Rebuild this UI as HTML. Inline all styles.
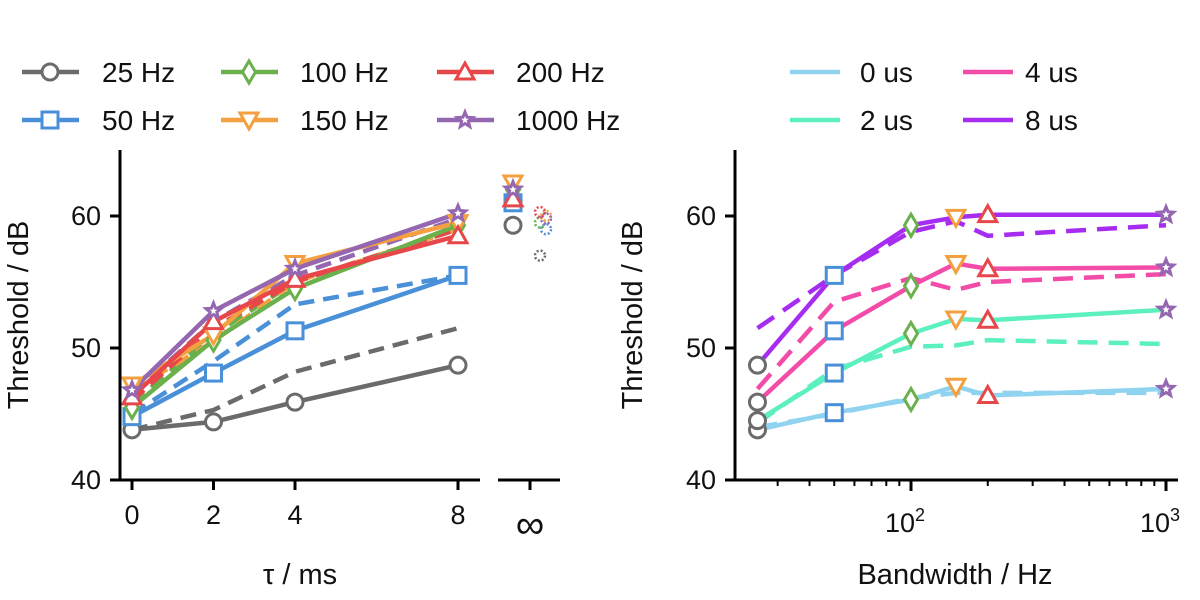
<!DOCTYPE html>
<html><head><meta charset="utf-8"><style>
html,body{margin:0;padding:0;background:#fff;}
svg{display:block;font-family:"Liberation Sans","DejaVu Sans",sans-serif;}
</style></head><body>
<svg id="chart" width="1200" height="600" viewBox="0 0 1200 600" xmlns="http://www.w3.org/2000/svg"></svg>
<script>
// ---- Left panel data ----
const leftTau = [0, 2, 4, 8];
const freqLabels = ["25 Hz", "50 Hz", "100 Hz", "150 Hz", "200 Hz", "1000 Hz"];
const solid25 = [43.8, 44.4, 45.9, 48.7];
const solid50 = [44.8, 48.1, 51.3, 55.5];
const solid100 = [45.5, 50.6, 54.5, 59.3];
const solid150 = [47.2, 51.0, 56.4, 59.5];
const solid200 = [46.3, 52.0, 55.2, 58.5];
const solid1000 = [46.8, 52.8, 56.0, 60.2];
const dash25 = [43.8, 45.3, 48.2, 51.5];
const dash50 = [45.0, 49.0, 53.3, 55.5];
const dash100 = [45.8, 51.0, 55.0, 59.0];
const dash150 = [46.8, 50.5, 55.0, 59.0];
const dash200 = [46.0, 51.5, 55.0, 59.0];
const dash1000 = [46.5, 52.0, 55.5, 59.8];
const infSolid = [59.3, 61.0, 62.0, 62.5, 61.3, 62.0];
const infDotted = [57.0, 59.0, 59.5, 60.0, 60.3, 59.8];
// ---- Right panel data ----
const bandwidths = [25, 50, 100, 150, 200, 1000];
const delayLabels = ["0 us", "2 us", "4 us", "8 us"];
const solid0us = [43.8, 45.1, 46.1, 47.1, 46.4, 46.9];
const solid2us = [44.5, 48.1, 51.1, 52.2, 52.1, 52.9];
const solid4us = [45.9, 51.3, 54.7, 56.4, 56.0, 56.1];
const solid8us = [48.7, 55.5, 59.3, 59.9, 60.1, 60.1];
const dash0us = [44.0, 45.0, 46.2, 46.6, 46.6, 46.6];
const dash2us = [44.3, 48.4, 50.1, 50.2, 50.6, 50.3];
const dash4us = [46.9, 53.5, 55.3, 54.4, 55.0, 55.6];
const dash8us = [51.5, 55.5, 58.8, 59.6, 58.5, 59.3];

const freqColors = ["#6b6b6b", "#4a90d9", "#6ab04c", "#f5a040", "#e8474a", "#9467b0"];
const markers = ["circle", "square", "diamond", "tdown", "tup", "star"];
const delayColors = ["#8fd3f0", "#5cf0c0", "#f24ca8", "#a72cf2"];

const NS = "http://www.w3.org/2000/svg";
const svg = document.getElementById("chart");
function el(tag, attrs, parent) {
  const e = document.createElementNS(NS, tag);
  for (const k in attrs) e.setAttribute(k, attrs[k]);
  (parent || svg).appendChild(e);
  return e;
}
const yScale = v => 480 - (v - 40) * 13.2;
const xLeft = t => 132 + t * 40.75;
const xInf = 513, xInfDot = 543;
const xRight = f => 911 + (Math.log10(f) - 2) * 255;

function marker(type, cx, cy, color, g) {
  const s = 8;
  const common = {fill: "#fff", stroke: color, "stroke-width": 3};
  let m;
  if (type === "circle") m = el("circle", Object.assign({cx: cx, cy: cy, r: s}, common), g);
  else if (type === "square") m = el("rect", Object.assign({x: cx - s, y: cy - s, width: 2 * s, height: 2 * s}, common), g);
  else if (type === "diamond") m = el("polygon", Object.assign({points: `${cx},${cy - 11} ${cx + 6.5},${cy} ${cx},${cy + 11} ${cx - 6.5},${cy}`}, common), g);
  else if (type === "tdown") m = el("polygon", Object.assign({points: `${cx - 9},${cy - 7} ${cx + 9},${cy - 7} ${cx},${cy + 9}`}, common), g);
  else if (type === "tup") m = el("polygon", Object.assign({points: `${cx - 9},${cy + 7} ${cx + 9},${cy + 7} ${cx},${cy - 9}`}, common), g);
  else {
    let p = [];
    for (let i = 0; i < 10; i++) { const r = i % 2 ? 3.5 : 8; const a = -Math.PI / 2 + i * Math.PI / 5; p.push((cx + r * Math.cos(a)).toFixed(1) + "," + (cy + r * Math.sin(a)).toFixed(1)); }
    m = el("polygon", Object.assign({points: p.join(" ")}, common, {"stroke-width": 3}), g);
  }
  
  
  return m;
}
function line(xs, ys, color, dash, g, name, width) {
  const pts = xs.map((x, i) => x.toFixed(1) + "," + ys[i].toFixed(1)).join(" ");
  const p = el("polyline", {points: pts, fill: "none", stroke: color, "stroke-width": width || 4.5, "stroke-dasharray": dash || "none", "stroke-linejoin": "round"}, g);
  
  
  return p;
}
function text(x, y, s, attrs, name) {
  const t = el("text", Object.assign({x: x, y: y, "font-size": 27, fill: "#111"}, attrs || {}));
  t.textContent = s;
  
  
  return t;
}

// ---- Left panel ----
const gL = el("g", {});


const solidL = [solid25, solid50, solid100, solid150, solid200, solid1000];
const dashL = [dash25, dash50, dash100, dash150, dash200, dash1000];
const xsL = leftTau.map(xLeft);
dashL.forEach((d, i) => line(xsL, d.map(yScale), freqColors[i], "16,9", gL, "dashed-line-" + i));
solidL.forEach((d, i) => line(xsL, d.map(yScale), freqColors[i], null, gL, "solid-line-" + i));
solidL.forEach((d, i) => d.forEach((v, j) => marker(markers[i], xsL[j], yScale(v), freqColors[i], gL)));
infSolid.forEach((v, i) => marker(markers[i], xInf, yScale(v), freqColors[i], gL));
infDotted.forEach((v, i) => {
  const c = el("circle", {cx: xInfDot + (i % 2 ? 3 : -3), cy: yScale(v), r: 5, fill: "none", stroke: freqColors[i], "stroke-width": 2.5, "stroke-dasharray": "2,2"}, gL);
  
  
});
const axL = el("g", {stroke: "#000", "stroke-width": 3});


el("line", {x1: 120, y1: 150, x2: 120, y2: 481.5}, axL);
el("line", {x1: 118.5, y1: 480, x2: 480, y2: 480}, axL);
el("line", {x1: 498, y1: 480, x2: 560, y2: 480}, axL);
[40, 50, 60].forEach(v => {
  el("line", {x1: 110, y1: yScale(v), x2: 120, y2: yScale(v)}, axL);
  text(101, yScale(v) + 9, String(v), {"text-anchor": "end"}, "left-y-tick-label");
});
leftTau.forEach(t => {
  el("line", {x1: xLeft(t), y1: 480, x2: xLeft(t), y2: 490}, axL);
  text(xLeft(t), 524, String(t), {"text-anchor": "middle"}, "left-x-tick-label");
});
el("line", {x1: 530, y1: 480, x2: 530, y2: 490}, axL);
text(530, 538, "∞", {"text-anchor": "middle", "font-size": 40}, "infinity-tick-label");
text(300, 584, "τ / ms", {"text-anchor": "middle", "font-size": 29}, "left-x-axis-title");
text(28, 315, "Threshold / dB", {"text-anchor": "middle", "font-size": 29, transform: "rotate(-90 28 315)"}, "left-y-axis-title");

// ---- Right panel ----
const gR = el("g", {});


const xsR = bandwidths.map(xRight);
const solidR = [solid0us, solid2us, solid4us, solid8us];
const dashR = [dash0us, dash2us, dash4us, dash8us];
dashR.forEach((d, i) => line(xsR, d.map(yScale), delayColors[i], "20,11", gR, "dashed-delay-" + i));
solidR.forEach((d, i) => line(xsR, d.map(yScale), delayColors[i], null, gR, "solid-delay-" + i));
solidR.forEach(d => d.forEach((v, j) => marker(markers[j], xsR[j], yScale(v), freqColors[j], gR)));
const axR = el("g", {stroke: "#000", "stroke-width": 3});


el("line", {x1: 735, y1: 150, x2: 735, y2: 481.5}, axR);
el("line", {x1: 733.5, y1: 480, x2: 1178, y2: 480}, axR);
[40, 50, 60].forEach(v => {
  el("line", {x1: 725, y1: yScale(v), x2: 735, y2: yScale(v)}, axR);
  text(716, yScale(v) + 9, String(v), {"text-anchor": "end"}, "right-y-tick-label");
});
for (let dec = 1; dec <= 3; dec++) for (let k = 1; k <= 9; k++) {
  const f = k * Math.pow(10, dec);
  const x = xRight(f);
  if (x < 737 || x > 1176) continue;
  const major = k === 1;
  el("line", {x1: x, y1: 480, x2: x, y2: major ? 491 : 486, "stroke-width": major ? 3 : 2}, axR);
}
const t1 = text(905, 532, "10", {"text-anchor": "middle"}, "right-x-tick-label-100");
const s1 = el("tspan", {dy: -11, "font-size": 18}, t1); s1.textContent = "2";
const t2 = text(1160, 532, "10", {"text-anchor": "middle"}, "right-x-tick-label-1000");
const s2 = el("tspan", {dy: -11, "font-size": 18}, t2); s2.textContent = "3";
text(955, 584, "Bandwidth / Hz", {"text-anchor": "middle", "font-size": 29}, "right-x-axis-title");
text(642, 315, "Threshold / dB", {"text-anchor": "middle", "font-size": 29, transform: "rotate(-90 642 315)"}, "right-y-axis-title");

// ---- Legends ----
const legCols = [22, 221, 437];
const legTextX = [102, 300, 516];
freqLabels.forEach((lab, i) => {
  const col = Math.floor(i / 2), row = i % 2;
  const y = row ? 120 : 72;
  const g = el("g", {});
  
  
  line([legCols[col], legCols[col] + 57], [y, y], freqColors[i], null, g, "legend-line");
  marker(markers[i], legCols[col] + 28, y, freqColors[i], g);
  const t = el("text", {x: legTextX[col], y: y + 10, "font-size": 28, fill: "#111"}, g);
  t.textContent = lab;
});
delayLabels.forEach((lab, i) => {
  const col = Math.floor(i / 2), row = i % 2;
  const y = row ? 120 : 72;
  const lx = col ? 963 : 790, tx = col ? 1025 : 860;
  const g = el("g", {});
  
  
  line([lx, lx + 50], [y, y], delayColors[i], null, g, "legend-line", 4.5);
  const t = el("text", {x: tx, y: y + 10, "font-size": 28, fill: "#111"}, g);
  t.textContent = lab;
});
</script>
</body></html>
